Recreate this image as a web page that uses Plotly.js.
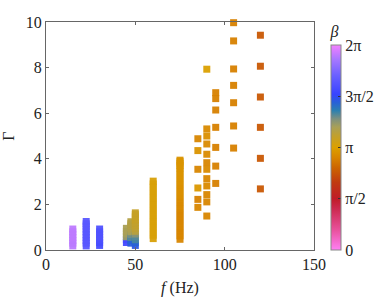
<!DOCTYPE html>
<html><head><meta charset="utf-8">
<script src="https://cdn.plot.ly/plotly-3.0.1.min.js"></script>
<style>html,body{margin:0;padding:0;background:#fff}#c{width:390px;height:299px}</style>
</head><body><div id="c"></div>
<script>
// frequency f (Hz) of each measured point
const freq = [
 15,15,15,15,15,15,15,
 22.5,22.5,22.5,22.5,22.5,22.5,22.5,22.5,22.5,22.5,
 30,30,30,30,30,30,30,
 45,45,45,45,45,45,
 47.5,47.5,47.5,47.5,47.5,47.5,47.5,47.5,47.5,
 50,50,50,50,50,50,50,50,50,50,50,50,50,
 60,60,60,60,60,60,60,60,60,60,60,60,60,60,60,60,60,60,
 75,75,75,75,75,75,75,75,75,75,75,75,75,75,75,75,75,75,75,75,75,75,75,75,75,75,
 85,85,85,85,85,85,
 90,90,90,90,90,90,90,90,90,90,90,90,
 95,95,95,95,95,95,95,
 105,105,105,105,105,105,105,
 120,120,120,120,120,120
];
// Gamma values
const gamma = [
 0.18,0.3,0.42,0.55,0.67,0.8,0.92,
 0.18,0.3,0.42,0.55,0.67,0.8,0.92,1.05,1.15,1.25,
 0.2,0.32,0.44,0.56,0.68,0.8,0.92,
 0.33,0.45,0.58,0.7,0.82,0.95,
 0.3,0.42,0.55,0.68,0.8,0.92,1.05,1.15,1.24,
 0.2,0.32,0.45,0.58,0.7,0.82,0.95,1.08,1.2,1.32,1.45,1.55,1.63,
 0.5,0.65,0.8,0.95,1.1,1.25,1.4,1.55,1.7,1.85,2.0,2.15,2.3,2.45,2.6,2.75,2.9,3.02,
 0.47,0.62,0.77,0.92,1.07,1.22,1.37,1.52,1.67,1.82,1.97,2.12,2.27,2.42,2.57,2.72,2.87,3.02,3.17,3.32,3.47,3.6,3.7,3.8,3.88,3.94,
 4.88,4.36,3.54,2.72,2.22,1.87,
 7.93,5.31,5.0,4.65,4.2,3.83,3.54,3.13,2.81,2.43,2.11,1.49,
 6.9,6.64,6.14,5.38,4.5,3.68,2.92,
 9.97,9.17,7.94,7.22,6.46,5.44,4.47,
 9.42,8.06,6.71,5.38,4.02,2.68
];
// phase beta (rad)
const beta = [
 5.95,5.95,5.95,5.97,5.97,5.97,5.97,
 5.15,5.15,5.15,5.15,5.15,5.15,5.15,5.15,5.15,5.15,
 4.95,4.95,5.0,5.05,5.05,5.05,5.05,
 4.9,4.9,3.85,3.8,3.75,3.75,
 4.55,4.5,4.15,4.05,3.75,3.7,3.65,3.65,3.65,
 4.6,4.5,4.2,4.15,3.95,3.6,3.55,3.5,3.5,3.45,3.45,3.45,3.45,
 3.2,3.2,3.2,3.2,3.2,3.2,3.2,3.2,3.2,3.2,3.2,3.2,3.2,3.2,3.2,3.2,3.2,3.2,
 2.85,2.85,2.85,2.85,2.85,2.85,2.85,2.85,2.85,2.88,2.9,2.9,2.92,2.95,2.95,2.95,2.95,2.98,2.98,2.98,3.0,3.0,3.0,3.0,3.0,3.0,
 2.85,3.0,2.85,3.05,2.8,2.85,
 3.15,2.9,2.95,2.9,2.9,2.85,2.9,2.85,2.9,2.85,2.85,2.85,
 2.8,2.8,2.8,2.8,2.8,2.8,2.8,
 2.8,2.8,2.8,2.8,2.8,2.8,2.8,
 2.4,2.4,2.4,2.4,2.4,2.4
];
const cbTickVals = [0, Math.PI/2, Math.PI, 3*Math.PI/2, 2*Math.PI];
const cbTickText = ['0','π/2','π','3π/2','2π'];
const xTicks = [0,50,100,150];
const yTicks = [0,2,4,6,8,10];

const cscale = [
 [0,'#ff80f4'],[0.1,'#e8509a'],[0.2,'#cc2a50'],[0.25,'#c01c28'],[0.33,'#c03a10'],
 [0.4,'#cc6400'],[0.45,'#d88400'],[0.5,'#dca000'],[0.56,'#c0a030'],[0.6,'#a8a058'],
 [0.64,'#7c9080'],[0.68,'#2c80b0'],[0.72,'#2860d8'],[0.76,'#3844ff'],[0.85,'#6a60ff'],
 [0.93,'#a878ff'],[1,'#f480ff']
];
const font = {family:'Liberation Serif', size:16, color:'#222'};
const trace = {
 x: freq, y: gamma, type:'scatter', mode:'markers', cliponaxis:false,
 marker:{symbol:'square', size:7, color:beta, cmin:0, cmax:2*Math.PI, colorscale:cscale, opacity:0.95,
   line:{width:0},
   colorbar:{x:1.063, xanchor:'left', xref:'paper', y:0.5, yanchor:'middle', len:1, lenmode:'fraction',
     thickness:10, outlinewidth:1, outlinecolor:'#888', ticks:'inside', ticklen:3, tickcolor:'#333',
     tickvals:cbTickVals, ticktext:cbTickText, tickfont:font, xpad:0, ypad:0,
     title:{text:'<i>β</i>', side:'top', font:font}}}
};
const axisCommon = {showgrid:false, zeroline:false, showline:true, linecolor:'#666', linewidth:1,
 mirror:'ticks', ticks:'inside', ticklen:3, tickcolor:'#666', tickfont:font};
const layout = {
 width:390, height:299, margin:{l:46, r:74, t:22, b:49}, paper_bgcolor:'#fff', plot_bgcolor:'#fff',
 showlegend:false, font:font,
 xaxis:Object.assign({}, axisCommon, {range:[0,150], tickvals:xTicks, title:{text:'<i>f</i> (Hz)', font:font, standoff:9}}),
 yaxis:Object.assign({}, axisCommon, {range:[0,10], tickvals:yTicks, title:{text:'Γ', font:font, standoff:8}})
};
Plotly.newPlot('c', [trace], layout, {displayModeBar:false, staticPlot:true});
</script></body></html>
